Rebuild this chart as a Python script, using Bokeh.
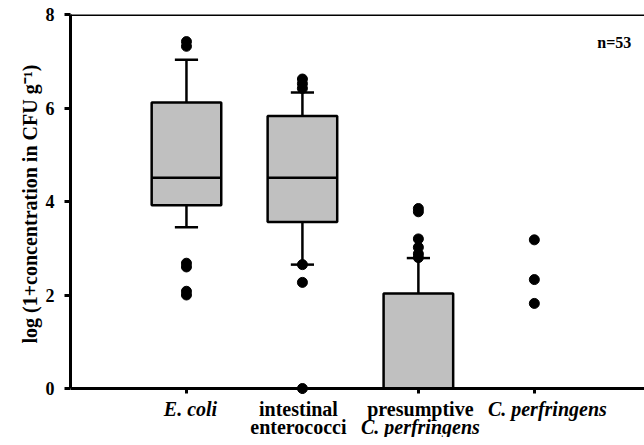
from bokeh.plotting import figure
from bokeh.models import Range1d, FixedTicker, Span, Title
from bokeh.core.properties import value
from bokeh.embed import file_html
from bokeh.resources import INLINE

# ---- data ----
categories = ["E. coli", "intestinal enterococci", "presumptive C. perfringens", "C. perfringens"]
positions = [1, 2, 3, 4]
q1 = [3.92, 3.56, 0.0, 0.0]
median = [4.51, 4.51, 0.0, 0.0]
q3 = [6.12, 5.83, 2.03, 0.0]
whisker_lo = [3.45, 2.65, 0.0, 0.0]
whisker_hi = [7.03, 6.33, 2.79, 0.0]
outliers = [
    [7.42, 7.32, 2.68, 2.60, 2.08, 2.00],
    [6.62, 6.52, 6.42, 2.65, 2.27, 0.0],
    [3.85, 3.78, 3.20, 3.02, 2.88, 2.80],
    [3.18, 2.33, 1.82],
]
label_line1 = ["E. coli", "intestinal", "presumptive", "C. perfringens"]
label_line1_style = ["bold italic", "bold", "bold", "bold italic"]
label_line2 = ["", "enterococci", "C. perfringens", ""]
label_line2_style = ["bold", "bold", "bold italic", "bold"]
y_ticks = [0, 2, 4, 6, 8]
y_label = "log (1+concentration in CFU g\u207b\u00b9)"
n_text = "n=53"

FONT = "Liberation Serif"
LABEL_SHIFT = [4, -4, 2, 13]  # small horizontal pixel nudges of the category labels

p = figure(width=644, height=437, output_backend="svg", toolbar_location=None,
           x_range=Range1d(0, 4.95), y_range=Range1d(-1.048, 8),
           min_border_left=70, min_border_top=14, min_border_bottom=0, min_border_right=0)
p.outline_line_color = None
p.grid.visible = False
p.background_fill_color = "white"

# y axis
ya = p.yaxis[0]
ya.ticker = FixedTicker(ticks=y_ticks)
ya.bounds = (0, 8)
ya.axis_line_width = 3
ya.axis_line_color = "black"
ya.major_tick_line_width = 3
ya.major_tick_in = 0
ya.major_tick_out = 6
ya.minor_tick_line_color = None
ya.major_label_text_font = FONT
ya.major_label_text_font_style = "bold"
ya.major_label_text_font_size = "18px"
ya.major_label_text_color = "black"
ya.major_label_standoff = 10

p.add_layout(Title(text=y_label, align="left", offset=94, standoff=4, text_font=FONT,
                   text_font_style="bold", text_font_size="20px", text_color="black"), "left")

# x axis placed at y = 0 inside the frame
xa = p.xaxis[0]
xa.fixed_location = 0
xa.ticker = FixedTicker(ticks=positions)
xa.major_label_overrides = {pos: "" for pos in positions}
xa.axis_line_width = 3
xa.axis_line_color = "black"
xa.major_tick_line_width = 3
xa.major_tick_in = 0
xa.major_tick_out = 5
xa.minor_tick_line_color = None
xa.major_label_text_font_size = "1px"
xa.major_label_standoff = 0

# top frame line
p.add_layout(Span(location=8, dimension="width", line_color="black", line_width=3))

# boxes
p.segment(x0=positions, y0=whisker_lo, x1=positions, y1=q1, line_color="black", line_width=2.5)
p.segment(x0=positions, y0=q3, x1=positions, y1=whisker_hi, line_color="black", line_width=2.5)
cap_w = 0.1
p.segment(x0=[x - cap_w for x in positions], y0=whisker_lo, x1=[x + cap_w for x in positions], y1=whisker_lo,
          line_color="black", line_width=2.5)
p.segment(x0=[x - cap_w for x in positions], y0=whisker_hi, x1=[x + cap_w for x in positions], y1=whisker_hi,
          line_color="black", line_width=2.5)
p.vbar(x=positions, width=0.6, bottom=q1, top=q3, fill_color="#c0c0c0", line_color="black", line_width=2.5)
p.segment(x0=[x - 0.3 for x in positions], y0=median, x1=[x + 0.3 for x in positions], y1=median,
          line_color="black", line_width=2.5)

# outliers
ox, oy = [], []
for pos, vals in zip(positions, outliers):
    for v in vals:
        ox.append(pos)
        oy.append(v)
p.scatter(ox, oy, size=10, fill_color="black", line_color="black")

# category labels (below axis line, inside the frame area)
for pos, t1, s1, t2, s2, dx in zip(positions, label_line1, label_line1_style, label_line2,
                                   label_line2_style, LABEL_SHIFT):
    p.text(x=[pos], y=[-0.43], text=[t1], x_offset=dx, text_font=value(FONT), text_font_style=s1,
           text_font_size="20px", text_align="center", text_baseline="middle", text_color="black")
    if t2:
        p.text(x=[pos], y=[-0.813], text=[t2], x_offset=dx, text_font=value(FONT), text_font_style=s2,
               text_font_size="20px", text_align="center", text_baseline="middle", text_color="black")

p.text(x=[4.69], y=[7.4], text=[n_text], text_font=value(FONT), text_font_style="bold", text_font_size="16px",
       text_align="center", text_baseline="middle", text_color="black")

open("out.html", "w").write(file_html(p, INLINE))
